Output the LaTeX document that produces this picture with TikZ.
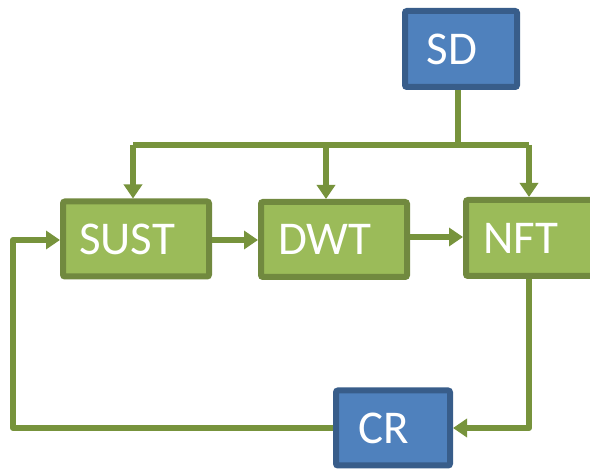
\documentclass[tikz,border=0pt]{standalone}
\usepackage{fontspec}
\setmainfont{Carlito}
\usetikzlibrary{arrows.meta,calc}
\definecolor{gfill}{HTML}{9BBB59}
\definecolor{gline}{HTML}{71893F}
\definecolor{conn}{HTML}{77933C}
\definecolor{bfill}{HTML}{4F81BD}
\definecolor{bline}{HTML}{385D8A}
\newcommand{\lft}[1]{\hspace*{-18pt}#1}
\tikzset{
  gbox/.style={draw=gline,fill=gfill,line width=6pt,rounded corners=2pt,text=white,font=\fontsize{47}{47}\selectfont,inner sep=0pt,anchor=center},
  bbox/.style={draw=bline,fill=bfill,line width=6pt,rounded corners=2pt,text=white,font=\fontsize{47}{47}\selectfont,inner sep=0pt,anchor=center},
  conn/.style={draw=conn,line width=6pt},
  arr/.style={conn,-{Triangle[length=14pt,width=18pt]}},
}
\begin{document}
\begin{tikzpicture}[x=1pt,y=-1pt]
\useasboundingbox (0,0) rectangle (590,470);
\clip (0,0) rectangle (590,470);
\node[bbox,minimum width=112pt,minimum height=76pt] (SD) at (461,49) {\lft{SD}};
\node[gbox,minimum width=146pt,minimum height=75pt] (SUST) at (136,239) {\lft{SUST}};
\node[gbox,minimum width=146pt,minimum height=75pt] (DWT) at (334,239.5) {\lft{DWT}};
\node[gbox,minimum width=128pt,minimum height=76pt] (NFT) at (530,238) {\lft{NFT}};
\node[bbox,minimum width=114pt,minimum height=75pt] (CR) at (393,428) {\lft{CR}};
\coordinate (j) at (458,145);
\coordinate (jl) at (133,145);
\coordinate (jm) at (326,145);
\coordinate (jr) at (529,145);
\coordinate (ll) at (13,428);
\coordinate (lt) at (13,240);
\draw[conn] (SD.south -| j) -- (j);
\draw[conn,line join=round] (jl) -- (jr);
\draw[arr] (jl) -- (jl |- SUST.north);
\draw[arr] (jm) -- (jm |- DWT.north);
\draw[arr] (jr) -- (jr |- NFT.north);
\draw[arr] (SUST.east |- 0,240) -- (DWT.west |- 0,240);
\draw[arr] (DWT.east |- 0,237) -- (NFT.west |- 0,237);
\draw[arr,line join=round] (NFT.south -| jr) |- (CR.east);
\draw[arr,line join=round] (CR.west) -- (ll) -- (lt) -- (SUST.west |- lt);
\end{tikzpicture}
\end{document}
